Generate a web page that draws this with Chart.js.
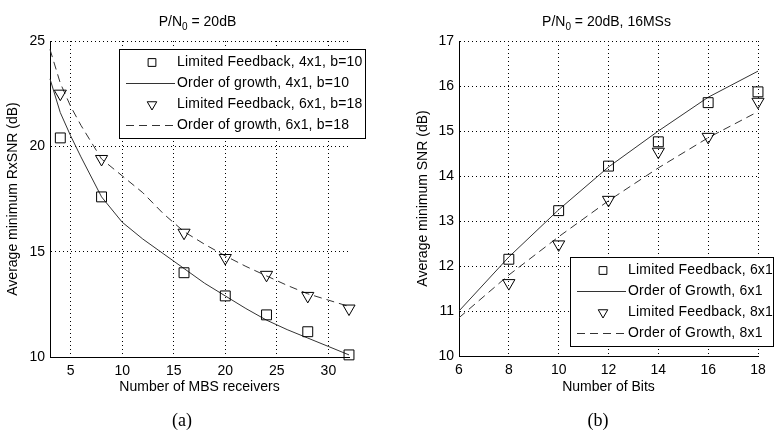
<!DOCTYPE html>
<html>
<head>
<meta charset="utf-8">
<script src="https://cdn.jsdelivr.net/npm/chart.js@4.4.0/dist/chart.umd.min.js"></script>
<style>
  html, body { margin: 0; padding: 0; background: #fff; }
  #wrap { position: relative; width: 776px; height: 437px; }
  canvas { position: absolute; top: 0; }
</style>
</head>
<body>
<div id="wrap">
  <canvas id="chartA" width="388" height="437" style="left:0"></canvas>
  <canvas id="chartB" width="388" height="437" style="left:388px"></canvas>
</div>
<script>
// (a) min RxSNR against number of MBS receivers
const receivers = [4, 8, 16, 20, 24, 28, 32];
const lf4x1 = [20.4, 17.6, 14.0, 12.9, 12.0, 11.2, 10.1];
const lf6x1 = [22.5, 19.4, 15.9, 14.7, 13.9, 12.9, 12.3];
const growthRx = [3, 4, 5, 6, 8, 10, 12, 14, 16, 18, 20, 22, 24, 26, 28, 30, 32];
const growth4x1 = [23.2, 21.6, 20.5, 19.5, 17.6, 16.4, 15.6, 14.9, 14.2, 13.5, 12.9, 12.3, 11.75, 11.3, 10.9, 10.5, 10.1];
const growth6x1 = [24.6, 23.0, 21.9, 21.0, 19.4, 18.6, 17.8, 16.8, 15.95, 15.35, 14.8, 14.3, 13.85, 13.4, 13.0, 12.7, 12.4];
const ticksXA = [5, 10, 15, 20, 25, 30];
const ticksYA = [10, 15, 20, 25];

// (b) min SNR against number of bits
const bits = [8, 10, 12, 14, 16, 18];
const lfBits6x1 = [12.15, 13.23, 14.22, 14.76, 15.63, 15.87];
const lfBits8x1 = [11.62, 12.48, 13.47, 14.54, 14.87, 15.65];
const growthBits = [6, 8, 10, 12, 14, 16, 18];
const growthBits6x1 = [11.0, 12.2, 13.25, 14.2, 15.0, 15.75, 16.33];
const growthBits8x1 = [10.85, 11.8, 12.65, 13.45, 14.18, 14.85, 15.43];
const ticksXB = [6, 8, 10, 12, 14, 16, 18];
const ticksYB = [10, 11, 12, 13, 14, 15, 16, 17];

const FONT = '"Liberation Sans", Arial, Helvetica, sans-serif';
const pts = (xs, ys) => xs.map((x, i) => ({x: x, y: ys[i]}));

// title with subscript, caption, and matlab-like legend box
const figureDecor = {
    id: 'figureDecor',
    afterDraw(chart, args, opts) {
        const {ctx, chartArea} = chart;
        ctx.save();
        ctx.fillStyle = '#000';
        ctx.textBaseline = 'alphabetic';

        // title: P/N0 = ...
        const parts = [['P/N', 14, 0], ['0', 10, 4], [opts.titleRest, 14, 0]];
        let total = 0;
        parts.forEach(p => { ctx.font = p[1] + 'px ' + FONT; total += ctx.measureText(p[0]).width; });
        let tx = (chartArea.left + chartArea.right) / 2 - 2 - total / 2;
        parts.forEach(p => {
            ctx.font = p[1] + 'px ' + FONT;
            ctx.textAlign = 'left';
            ctx.fillText(p[0], tx, 26 + p[2]);
            tx += ctx.measureText(p[0]).width;
        });

        // caption (a)/(b)
        ctx.font = '18px "Liberation Serif", "DejaVu Serif", serif';
        ctx.textAlign = 'center';
        ctx.textBaseline = 'middle';
        ctx.fillText(opts.caption, opts.captionX, 421);

        // legend
        const lg = opts.legend;
        const bx = chartArea.left + lg.dx, by = chartArea.top + lg.dy;
        ctx.fillStyle = '#fff';
        ctx.fillRect(bx, by, lg.w, lg.h);
        ctx.strokeStyle = '#000';
        ctx.lineWidth = 1;
        ctx.strokeRect(Math.round(bx) + 0.5, Math.round(by) + 0.5, lg.w, lg.h);
        ctx.font = '14px ' + FONT;
        ctx.textAlign = 'left';
        if ('letterSpacing' in ctx) ctx.letterSpacing = '0.2px';
        chart.data.datasets.forEach((ds, i) => {
            const ry = Math.round(by + 12.5 + i * 21) + 0.5;
            ctx.strokeStyle = ds.borderColor;
            ctx.lineWidth = 1;
            if (ds.showLine) {
                ctx.setLineDash(ds.borderDash || []);
                ctx.beginPath();
                ctx.moveTo(bx + 7, ry);
                ctx.lineTo(bx + 56, ry);
                ctx.stroke();
                ctx.setLineDash([]);
            } else {
                ctx.fillStyle = 'rgba(0,0,0,0)';
                Chart.helpers.drawPoint(ctx, {
                    pointStyle: ds.pointStyle, rotation: ds.rotation || 0,
                    radius: 5.5, borderWidth: 1
                }, bx + 33, ry);
            }
            ctx.fillStyle = '#000';
            ctx.textBaseline = 'middle';
            ctx.fillText(ds.label, bx + 58, ry);
        });
        ctx.restore();
    }
};

function markerSet(label, xs, ys, style, rot) {
    return {
        label: label, data: pts(xs, ys), showLine: false,
        pointStyle: style, rotation: rot, pointRadius: 7,
        pointBorderColor: '#000', pointBackgroundColor: 'transparent',
        pointBorderWidth: 1, borderColor: '#000', clip: false
    };
}
function curveSet(label, xs, ys, dash) {
    return {
        label: label, data: pts(xs, ys), showLine: true, pointRadius: 0,
        borderColor: '#333', borderWidth: 1, borderDash: dash, tension: 0, clip: false
    };
}

function axis(ticksList, min, max, title, fitKey, fitVal, titlePad) {
    return {
        type: 'linear', min: min, max: max,
        afterBuildTicks: s => { s.ticks = ticksList.map(v => ({value: v})); },
        afterFit: s => { s[fitKey] = fitVal; },
        grid: { color: '#000', lineWidth: 1, drawTicks: false },
        border: { display: true, color: '#000', width: 1, dash: [1, 3] },
        ticks: { color: '#000', font: {family: FONT, size: 14}, padding: fitKey === 'width' ? 5 : 6,
                 maxRotation: 0, autoSkip: false },
        title: { display: true, text: title, color: '#000', font: {family: FONT, size: 14}, padding: titlePad }
    };
}

const common = {
    responsive: false,
    animation: false,
    events: [],
    plugins: { legend: {display: false}, tooltip: {enabled: false} }
};

new Chart(document.getElementById('chartA'), {
    type: 'scatter',
    data: {
        datasets: [
            markerSet('Limited Feedback, 4x1, b=10', receivers, lf4x1, 'rect', 0),
            curveSet('Order of growth, 4x1, b=10', growthRx, growth4x1, []),
            markerSet('Limited Feedback, 6x1, b=18', receivers, lf6x1, 'triangle', 180),
            curveSet('Order of growth, 6x1, b=18', growthRx, growth6x1, [8, 5])
        ]
    },
    options: Object.assign({}, common, {
        layout: { padding: {left: 0, top: 41, right: 39, bottom: 36} },
        scales: {
            x: axis(ticksXA, 3, 32, 'Number of MBS receivers', 'height', 44, {top: 0, bottom: 5}),
            y: axis(ticksYA, 10, 25, 'Average minimum RxSNR (dB)', 'width', 50, {top: 5, bottom: 0})
        },
        plugins: Object.assign({}, common.plugins, {
            figureDecor: {
                titleRest: ' = 20dB', caption: '(a)', captionX: 182,
                legend: {dx: 69, dy: 8, w: 246, h: 89}
            }
        })
    }),
    plugins: [figureDecor]
});

new Chart(document.getElementById('chartB'), {
    type: 'scatter',
    data: {
        datasets: [
            markerSet('Limited Feedback, 6x1', bits, lfBits6x1, 'rect', 0),
            curveSet('Order of Growth, 6x1', growthBits, growthBits6x1, []),
            markerSet('Limited Feedback, 8x1', bits, lfBits8x1, 'triangle', 180),
            curveSet('Order of Growth, 8x1', growthBits, growthBits8x1, [8, 5])
        ]
    },
    options: Object.assign({}, common, {
        layout: { padding: {left: 0, top: 41, right: 18, bottom: 36} },
        scales: {
            x: axis(ticksXB, 6, 18, 'Number of Bits', 'height', 45, {top: 0, bottom: 5}),
            y: axis(ticksYB, 10, 17, 'Average minimum SNR (dB)', 'width', 71, {top: 27, bottom: 0})
        },
        plugins: Object.assign({}, common.plugins, {
            figureDecor: {
                titleRest: ' = 20dB, 16MSs', caption: '(b)', captionX: 210,
                legend: {dx: 111, dy: 216, w: 203, h: 89}
            }
        })
    }),
    plugins: [figureDecor]
});
</script>
</body>
</html>
